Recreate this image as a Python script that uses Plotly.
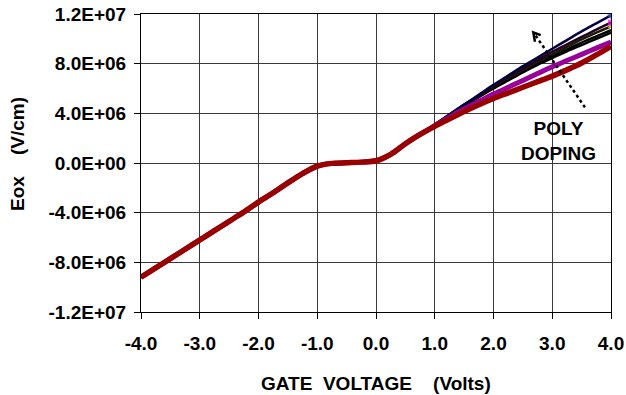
import plotly.graph_objects as go

# ---- data ----
v_low = [-4.0, -3.75, -3.5, -3.25, -3.0, -2.75, -2.5, -2.25, -2.0, -1.75, -1.5, -1.25,
         -1.0, -0.75, -0.5, -0.25, 0.0, 0.25, 0.5, 0.75]
eox_low = [-9.2e6, -8.45e6, -7.7e6, -6.95e6, -6.2e6, -5.45e6, -4.7e6, -3.95e6, -3.15e6,
           -2.4e6, -1.6e6, -0.85e6, -0.25e6, -0.03e6, 0.02e6, 0.07e6, 0.18e6, 0.7e6,
           1.55e6, 2.3e6]
v_high = [1.0, 1.25, 1.5, 1.75, 2.0, 2.25, 2.5, 2.75, 3.0, 3.25, 3.5, 3.75, 4.0]

eox_blue = [3.1e6, 3.9e6, 4.7e6, 5.5e6, 6.3e6, 7.05e6, 7.8e6, 8.5e6, 9.2e6, 9.9e6, 10.6e6, 11.25e6, 11.9e6]
eox_magenta = [3.1e6, 3.9e6, 4.7e6, 5.45e6, 6.2e6, 6.95e6, 7.65e6, 8.3e6, 8.95e6, 9.55e6, 10.15e6, 10.75e6, 11.3e6]
eox_yellow = [3.1e6, 3.85e6, 4.65e6, 5.4e6, 6.15e6, 6.85e6, 7.5e6, 8.15e6, 8.75e6, 9.35e6, 9.95e6, 10.5e6, 11.0e6]
eox_black1 = [3.05e6, 3.85e6, 4.6e6, 5.35e6, 6.05e6, 6.75e6, 7.4e6, 8.0e6, 8.6e6, 9.15e6, 9.7e6, 10.2e6, 10.7e6]
eox_black2 = [3.05e6, 3.8e6, 4.55e6, 5.3e6, 6.0e6, 6.65e6, 7.3e6, 7.9e6, 8.45e6, 9.0e6, 9.5e6, 10.0e6, 10.5e6]
eox_purple = [3.0e6, 3.7e6, 4.35e6, 4.95e6, 5.55e6, 6.1e6, 6.65e6, 7.2e6, 7.75e6, 8.25e6, 8.75e6, 9.25e6, 9.75e6]
eox_red = [2.95e6, 3.55e6, 4.15e6, 4.7e6, 5.2e6, 5.65e6, 6.1e6, 6.55e6, 7.0e6, 7.5e6, 8.05e6, 8.7e6, 9.4e6]

x_tickvals = [-4, -3, -2, -1, 0, 1, 2, 3, 4]
x_ticktext = ["-4.0", "-3.0", "-2.0", "-1.0", "0.0", "1.0", "2.0", "3.0", "4.0"]
y_tickvals = [-1.2e7, -8e6, -4e6, 0, 4e6, 8e6, 1.2e7]
y_ticktext = ["-1.2E+07", "-8.0E+06", "-4.0E+06", "0.0E+00", "4.0E+06", "8.0E+06", "1.2E+07"]

FONT = "Liberation Sans, Arial, sans-serif"
BOLD = dict(family=FONT, size=19, color="black", weight="bold")
V = v_low + v_high
n = len(V)

series = [
    # (values, color, width, marker symbol, marker color)
    (eox_black2, "#000000", 2.5, None, None),
    (eox_black1, "#000000", 2.5, None, None),
    (eox_yellow, "#1a1a00", 2.5, "triangle-up", "#FFFF00"),
    (eox_magenta, "#220022", 2.5, "square", "#FF00FF"),
    (eox_blue, "#000040", 2.5, "diamond", "#3366CC"),
    (eox_purple, "#990099", 5, None, None),
    (eox_red, "#990000", 5.5, None, None),
]

fig = go.Figure()
for vals, col, w, sym, mcol in series:
    y = eox_low + vals
    tr = dict(x=V, y=y, mode="lines",
              line=dict(color=col, width=w, shape="spline", smoothing=0.8),
              showlegend=False, hoverinfo="skip")
    if sym:
        tr["mode"] = "lines+markers"
        tr["marker"] = dict(symbol=sym, color=mcol, size=[0] * (n - 1) + [6],
                            line=dict(width=0))
    fig.add_trace(go.Scatter(**tr))

axis_common = dict(showgrid=True, gridcolor="#3a3a3a", gridwidth=1, showline=True,
                   linecolor="black", linewidth=1, mirror=True, zeroline=False,
                   ticks="outside", ticklen=6, tickcolor="black", tickfont=BOLD,
                   ticklabeloverflow="allow", automargin=False)

fig.update_xaxes(range=[-4, 4], tickmode="array", tickvals=x_tickvals, ticktext=x_ticktext,
                 ticklabelstandoff=8, **axis_common)
fig.update_yaxes(range=[-1.2e7, 1.2e7], tickmode="array", tickvals=y_tickvals,
                 ticktext=y_ticktext, ticklabelstandoff=4, **axis_common)

# dotted arrow
fig.add_shape(type="line", x0=3.557, y0=4.48e6, x1=2.69, y1=10.45e6, xref="x", yref="y",
              line=dict(color="black", width=2.5, dash="dot"))
fig.add_shape(type="path", xref="x", yref="y",
              path="M 2.803,10.30e6 L 2.678,10.51e6 L 2.706,9.76e6",
              line=dict(color="black", width=2.5))

fig.add_annotation(x=3.1, y=1.8e6, xref="x", yref="y", text="POLY<br>DOPING",
                   showarrow=False, font=BOLD, align="center")

# axis titles as annotations for precise placement
fig.add_annotation(x=0.5, y=0, xref="paper", yref="paper", yshift=-71,
                   text="GATE  VOLTAGE    (Volts)", showarrow=False,
                   font=BOLD, yanchor="middle")
fig.add_annotation(x=0, y=0.5, xref="paper", yref="paper", xshift=-124, yshift=9,
                   text="Eox    (V/cm)", showarrow=False, textangle=-90,
                   font=BOLD, xanchor="center")

fig.update_layout(width=626, height=395, autosize=False,
                  margin=dict(l=141, r=15, t=14, b=83, autoexpand=False),
                  paper_bgcolor="white", plot_bgcolor="white")

fig.write_html("out.html", config={"displayModeBar": False},
               post_script="document.body.style.margin='0';document.body.style.overflow='hidden';")
